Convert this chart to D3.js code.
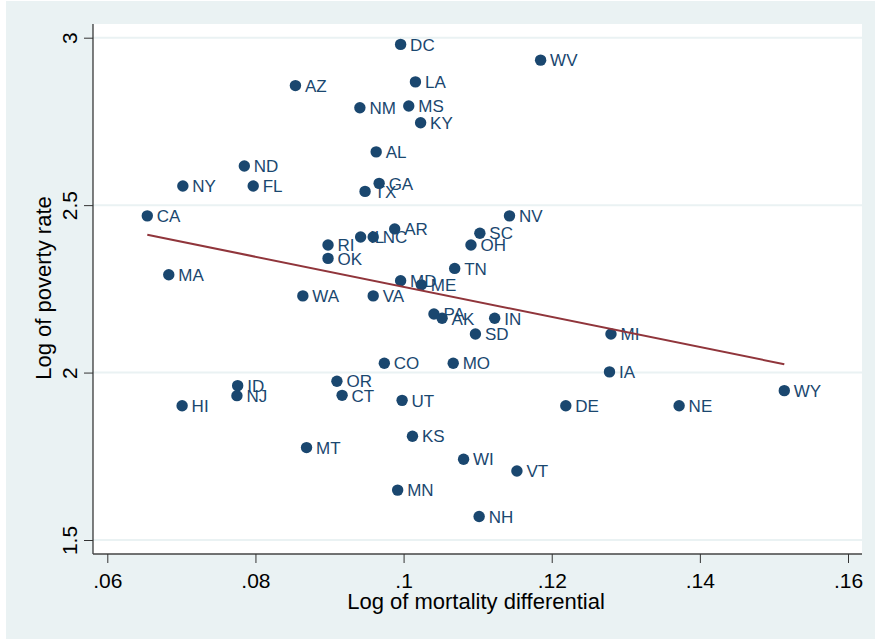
<!DOCTYPE html>
<html>
<head>
<meta charset="utf-8">
<script src="https://cdn.jsdelivr.net/npm/d3@7/dist/d3.min.js"></script>
<style>
  html, body { margin: 0; padding: 0; background: #ffffff; }
  svg { display: block; font-family: "Liberation Sans", Arial, sans-serif; }
</style>
</head>
<body>
<svg id="chart" width="875" height="640"></svg>
<script>
// State abbreviations with log mortality differential (x) and log poverty rate (y)
const states = ["DC","WV","AZ","LA","NM","MS","KY","AL","ND","NY","FL","GA","TX","CA","NV",
  "AR","IL","NC","SC","RI","OK","OH","TN","MD","ME","MA","WA","VA","PA","AK","IN","SD","MI",
  "CO","MO","IA","OR","ID","NJ","CT","UT","HI","DE","NE","WY","KS","MT","WI","VT","MN","NH"];
const mortality = [0.0996,0.1185,0.0854,0.1016,0.0941,0.1007,0.1023,0.0963,0.0785,0.0702,0.0797,
  0.0967,0.0948,0.0654,0.1143,0.0988,0.0942,0.0959,0.1103,0.0898,0.0898,0.1091,0.1069,0.0996,
  0.1024,0.0683,0.0864,0.0959,0.1041,0.1052,0.1123,0.1097,0.1280,0.0974,0.1067,0.1278,0.0910,
  0.0776,0.0775,0.0917,0.0998,0.0701,0.1219,0.1372,0.1514,0.1012,0.0869,0.1081,0.1153,0.0992,0.1102];
const poverty = [2.980,2.933,2.857,2.868,2.791,2.796,2.746,2.659,2.617,2.557,2.557,2.565,2.541,
  2.468,2.468,2.429,2.405,2.405,2.416,2.381,2.341,2.381,2.311,2.274,2.262,2.292,2.229,2.229,
  2.175,2.162,2.162,2.115,2.115,2.028,2.028,2.002,1.974,1.961,1.931,1.932,1.917,1.901,1.901,
  1.901,1.946,1.810,1.776,1.741,1.706,1.649,1.570];

const xTicks = [0.06, 0.08, 0.10, 0.12, 0.14, 0.16];
const xTickLabels = [".06", ".08", ".1", ".12", ".14", ".16"];
const yTicks = [1.5, 2, 2.5, 3];
const yTickLabels = ["1.5", "2", "2.5", "3"];

const data = states.map((s, i) => ({ s, x: mortality[i], y: poverty[i] }));

const svg = d3.select("#chart");
const bg = "#eaf2f3", navy = "#1a476f", maroon = "#90353b";

// Graph and plot regions
const plot = { left: 93, right: 862, top: 24, bottom: 554 };
svg.append("rect").attr("x", 6).attr("y", 1).attr("width", 869).attr("height", 638).attr("fill", bg);
svg.append("rect").attr("x", plot.left).attr("y", plot.top)
  .attr("width", plot.right - plot.left).attr("height", plot.bottom - plot.top).attr("fill", "#fff");

const x = d3.scaleLinear().domain([0.06, 0.16]).range([107.3, 848]);
const y = d3.scaleLinear().domain([1.5, 3]).range([540, 37.7]);

// Horizontal grid lines
svg.append("g").selectAll("line").data(yTicks).join("line")
  .attr("x1", plot.left).attr("x2", plot.right)
  .attr("y1", d => y(d)).attr("y2", d => y(d))
  .attr("stroke", bg).attr("stroke-width", 2);

// Axes
const yAxis = svg.append("g").attr("transform", `translate(${plot.left},0)`)
  .call(d3.axisLeft(y).tickValues(yTicks).tickSize(9).tickFormat((d, i) => yTickLabels[i]));
yAxis.select(".domain").attr("d", `M0,${plot.top}V${plot.bottom}`).attr("stroke", "#000");
yAxis.selectAll(".tick line").attr("stroke", "#333");
yAxis.selectAll(".tick text")
  .attr("x", null).attr("dy", null)
  .attr("transform", "translate(-16,0) rotate(-90)")
  .attr("text-anchor", "middle").attr("font-size", 21).attr("fill", "#000");

const xAxis = svg.append("g").attr("transform", `translate(0,${plot.bottom})`)
  .call(d3.axisBottom(x).tickValues(xTicks).tickSize(9).tickFormat((d, i) => xTickLabels[i]));
xAxis.select(".domain").attr("d", `M${plot.left},0H${plot.right}`).attr("stroke", "#444").attr("stroke-width", 1.5);
xAxis.selectAll(".tick line").attr("stroke", "#333");
xAxis.selectAll(".tick text").attr("y", 34).attr("dy", null)
  .attr("font-size", 21).attr("fill", "#000");

// Axis titles
svg.append("text").attr("transform", "translate(51,288) rotate(-90)")
  .attr("text-anchor", "middle").attr("font-size", 22).text("Log of poverty rate");
svg.append("text").attr("x", 476).attr("y", 609)
  .attr("text-anchor", "middle").attr("font-size", 22).text("Log of mortality differential");

// Points and state labels
const pts = svg.append("g");
pts.selectAll("circle").data(data).join("circle")
  .attr("cx", d => x(d.x)).attr("cy", d => y(d.y)).attr("r", 5.7).attr("fill", navy);
pts.selectAll("text").data(data).join("text")
  .attr("x", d => x(d.x) + 9.5).attr("y", d => y(d.y) + 6.2)
  .attr("font-size", 17).attr("fill", navy).text(d => d.s);

// Least-squares fitted line across the observed range
const mx = d3.mean(mortality), my = d3.mean(poverty);
const slope = d3.sum(data, d => (d.x - mx) * (d.y - my)) / d3.sum(data, d => (d.x - mx) ** 2);
const icpt = my - slope * mx;
const [x0, x1] = d3.extent(mortality);
svg.append("line")
  .attr("x1", x(x0)).attr("y1", y(icpt + slope * x0))
  .attr("x2", x(x1)).attr("y2", y(icpt + slope * x1))
  .attr("stroke", maroon).attr("stroke-width", 2);
</script>
</body>
</html>
